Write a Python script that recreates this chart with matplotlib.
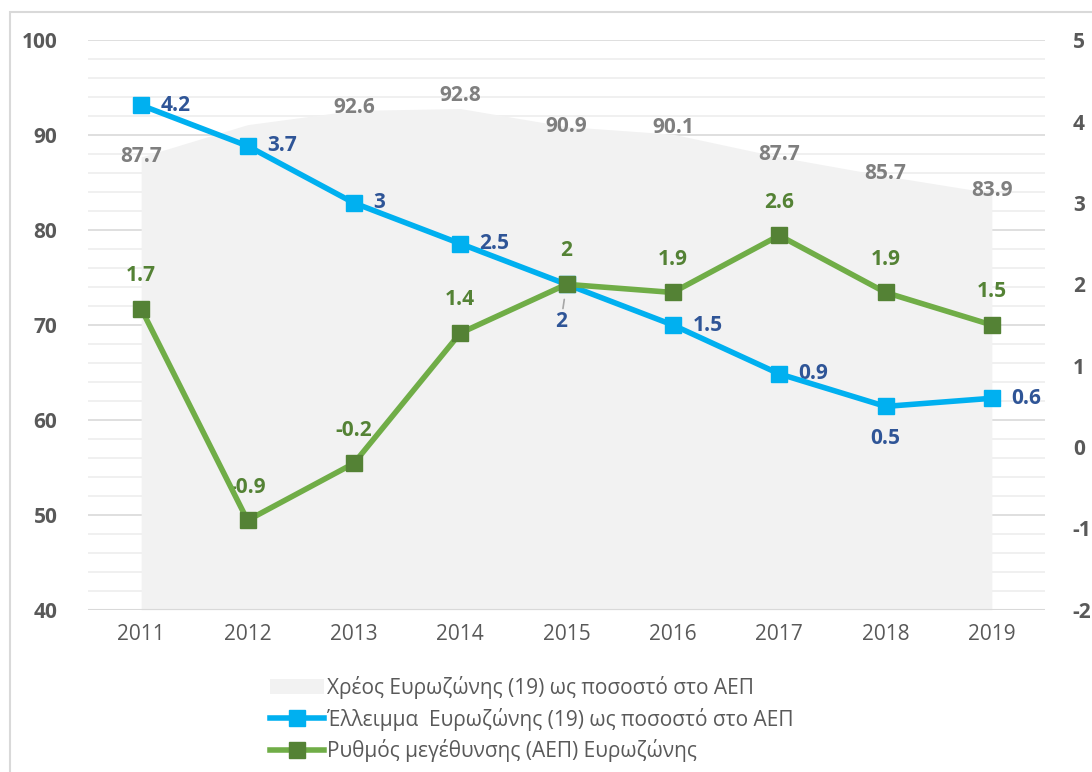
import matplotlib
matplotlib.use("Agg")
import matplotlib.pyplot as plt
from matplotlib.lines import Line2D
from matplotlib.patches import Patch, Rectangle

plt.rcParams['font.family'] = ['Open Sans', 'DejaVu Sans']
plt.rcParams['axes.unicode_minus'] = False

years = ['2011', '2012', '2013', '2014', '2015', '2016', '2017', '2018', '2019']
debt = [87.7, 91.1, 92.6, 92.8, 90.9, 90.1, 87.7, 85.7, 83.9]
deficit = [4.2, 3.7, 3.0, 2.5, 2.0, 1.5, 0.9, 0.5, 0.6]
growth = [1.7, -0.9, -0.2, 1.4, 2.0, 1.9, 2.6, 1.9, 1.5]

debt_name = 'Χρέος Ευρωζώνης (19) ως ποσοστό στο ΑΕΠ'
deficit_name = 'Έλλειμμα  Ευρωζώνης (19) ως ποσοστό στο ΑΕΠ'
growth_name = 'Ρυθμός μεγέθυνσης (ΑΕΠ) Ευρωζώνης'

c_area = '#F2F2F2'
c_blue = '#00B0F0'
c_blue_txt = '#2F5597'
c_green = '#70AD47'
c_green_dk = '#548235'
c_tick = '#595959'
c_debt_txt = '#7F7F7F'

fig = plt.figure(figsize=(10.92, 7.72), dpi=100)
ax = fig.add_axes([0.0806, 0.21, 0.8764, 0.738])
ax2 = ax.twinx()

x = list(range(len(years)))

# debt area on the left axis
ax.fill_between(x, 40, debt, color=c_area, lw=0, zorder=1)
ax.set_ylim(40, 100)
ax.set_xlim(-0.5, len(years) - 0.5)
for v in range(42, 100, 2):
    col = '#D9D9D9' if v % 10 == 0 else '#EEEEEE'
    ax.axhline(v, color=col, lw=1.2, zorder=0.5)
ax.axhline(100, color='#D9D9D9', lw=1.2, zorder=0.5)
ax.axhline(40, color='#D9D9D9', lw=1.5, zorder=2)
ax.set_yticks(range(40, 101, 10))
ax.set_xticks(x)
ax.set_xticklabels(years)
for s in ax.spines.values():
    s.set_visible(False)
for s in ax2.spines.values():
    s.set_visible(False)
ax.tick_params(axis='y', length=0, pad=22, labelsize=15, labelcolor=c_tick)
ax.tick_params(axis='x', length=0, pad=10, labelsize=15, labelcolor=c_tick)
for t in ax.get_yticklabels():
    t.set_fontweight('bold')

debt_off = [0, 0, 3, 13, 0, 7, 2, 2, 3]
for i, v in enumerate(debt):
    if i == 1:
        continue
    ax.text(i, v + debt_off[i] / 9.5, f'{v:g}', ha='center', va='center',
            color=c_debt_txt, fontsize=15, fontweight='bold', zorder=3)

# deficit and growth on the right axis
ax2.set_ylim(-2, 5)
ax2.set_yticks(range(-2, 6))
ax2.tick_params(axis='y', length=0, pad=20, labelsize=15, labelcolor=c_tick)
for t in ax2.get_yticklabels():
    t.set_fontweight('bold')

ax2.plot(x, deficit, color=c_blue, lw=4, marker='s', ms=11,
         mfc=c_blue, mec=c_blue, zorder=4, solid_joinstyle='round')
ax2.plot(x, growth, color=c_green, lw=4, marker='s', ms=11,
         mfc=c_green_dk, mec=c_green_dk, zorder=5, solid_joinstyle='round')

for i, v in enumerate(deficit):
    if i == 4:
        ax2.annotate(f'{v:g}', (i, v), xytext=(-4, -27), textcoords='offset points',
                     ha='center', va='center', color=c_blue_txt, fontsize=15,
                     fontweight='bold',
                     arrowprops=dict(arrowstyle='-', color='#A6A6A6', lw=1.2,
                                     shrinkA=0, shrinkB=11))
    elif i == 7:
        ax2.annotate(f'{v:g}', (i, v), xytext=(0, -23), textcoords='offset points',
                     ha='center', va='center', color=c_blue_txt, fontsize=15,
                     fontweight='bold')
    else:
        ax2.annotate(f'{v:g}', (i, v), xytext=(14, 0), textcoords='offset points',
                     ha='left', va='center', color=c_blue_txt, fontsize=15,
                     fontweight='bold')

for i, v in enumerate(growth):
    ax2.annotate(f'{v:g}', (i, v), xytext=(0, 24), textcoords='offset points',
                 ha='center', va='center', color=c_green_dk, fontsize=15,
                 fontweight='bold')

# legend below the plot
handles = [
    Patch(facecolor=c_area, edgecolor='none'),
    Line2D([], [], color=c_blue, lw=4, marker='s', ms=11, mfc=c_blue, mec=c_blue),
    Line2D([], [], color=c_green, lw=4, marker='s', ms=11, mfc=c_green_dk, mec=c_green_dk),
]
fig.legend(handles, [debt_name, deficit_name, growth_name], loc='upper left',
           bbox_to_anchor=(0.238, 0.138), frameon=False, fontsize=15,
           labelcolor=c_tick, handlelength=2.6, handletextpad=0.1,
           labelspacing=0.42, borderpad=0)

# outer frame
fig.patches.append(Rectangle((10 / 1092, -0.01), 1.0, 1 - 12 / 772 + 0.01,
                             transform=fig.transFigure, fill=False,
                             edgecolor='#D9D9D9', lw=1.5))

fig.savefig('out.png', dpi=100)
